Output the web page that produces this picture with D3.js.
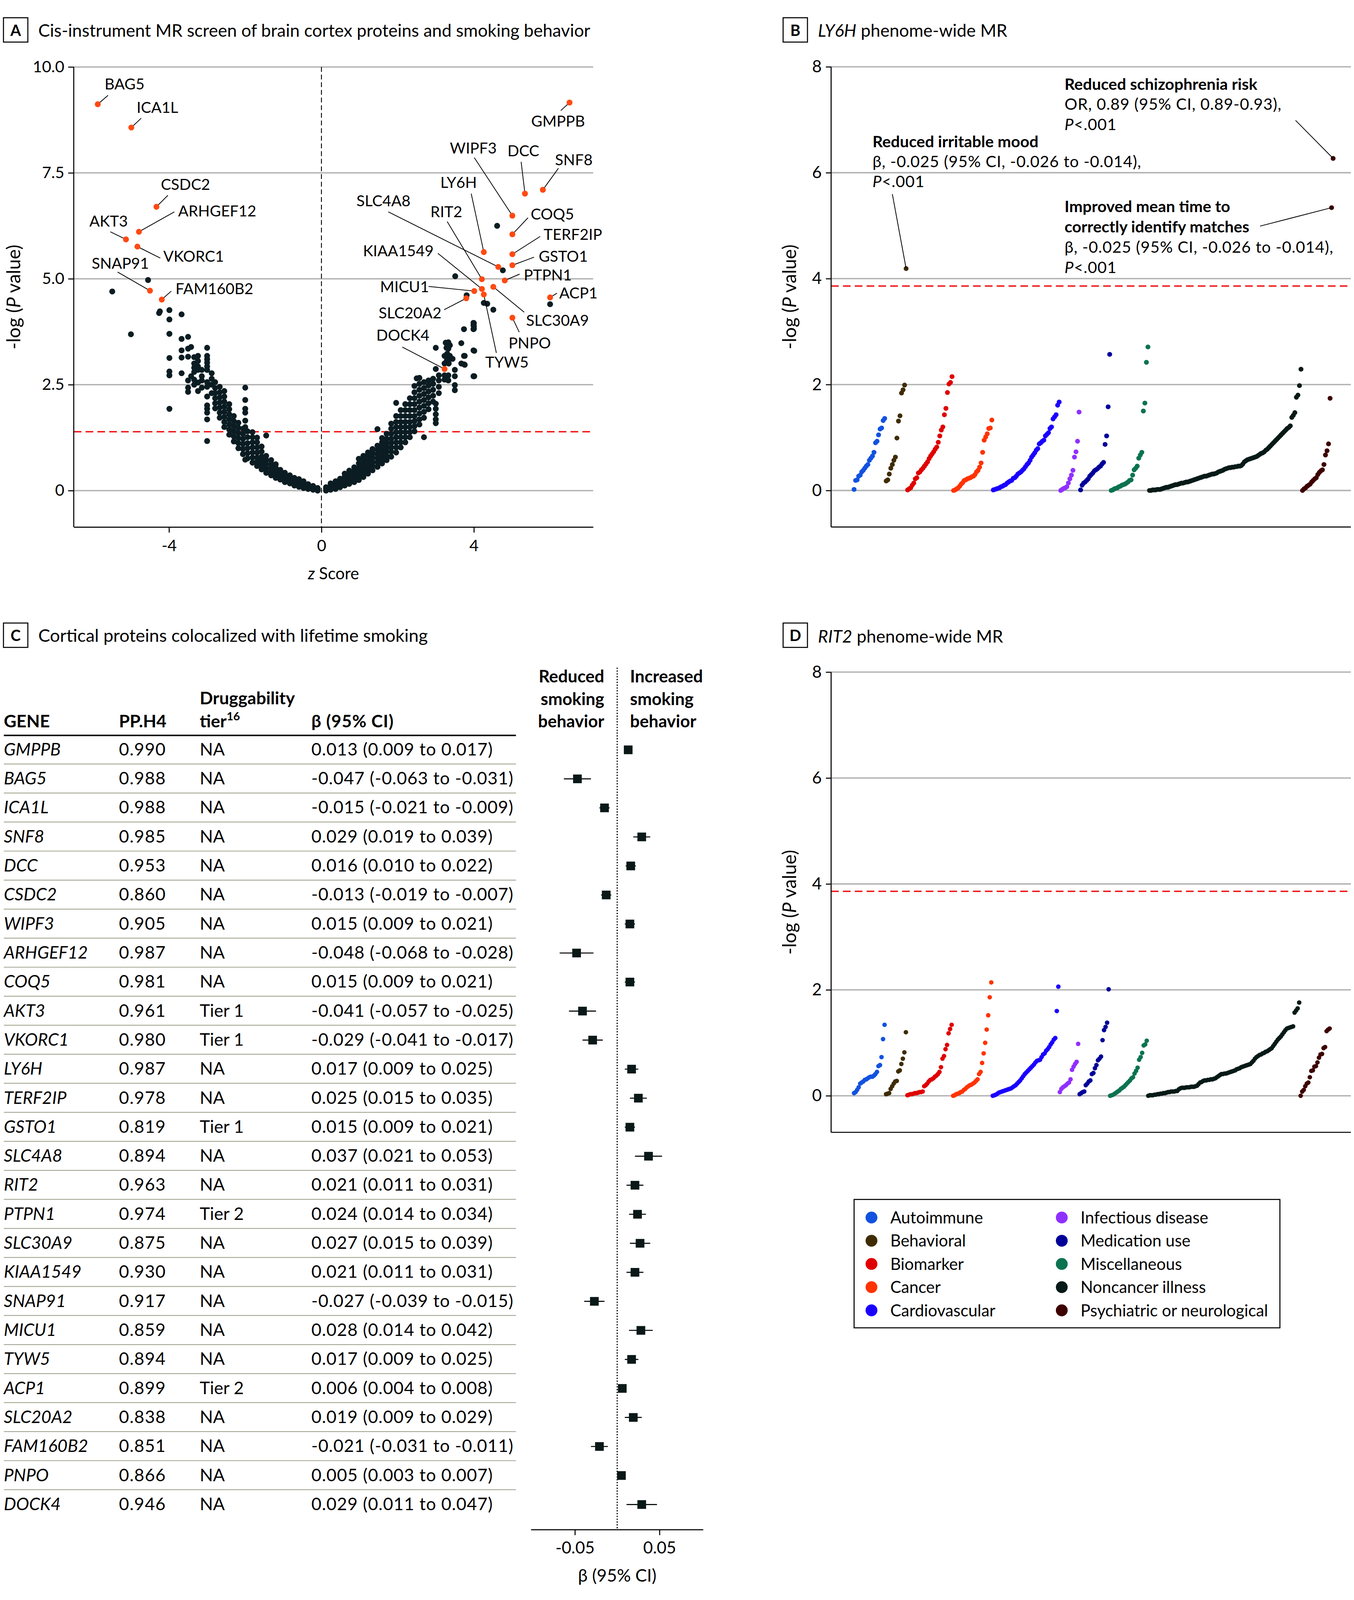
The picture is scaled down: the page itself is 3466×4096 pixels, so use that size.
<!DOCTYPE html>
<html><head><meta charset="utf-8">
<script src="https://cdn.jsdelivr.net/npm/d3@7"></script>
<style>
html,body{margin:0;padding:0;background:#fff;}
svg{display:block;}
</style></head><body>
<svg id="chart" width="3466" height="4096"></svg>
<script>
// ================= DATA =================
// Panel A: cis-MR screen (z score, -log10 P). Columns of points read from the dense V band.
const SCREEN_LEFT_COLUMNS = [
 [-0.10,[0.00,0.03,0.06]],[-0.22,[0.02,0.06,0.11]],[-0.35,[0.04,0.09,0.15]],
 [-0.47,[0.06,0.12,0.18,0.22]],[-0.59,[0.09,0.15,0.21,0.27]],[-0.71,[0.12,0.18,0.24,0.30]],
 [-0.83,[0.17,0.23,0.29,0.36]],[-0.96,[0.20,0.27,0.34,0.42]],[-1.08,[0.26,0.33,0.41,0.49]],
 [-1.20,[0.30,0.38,0.46,0.54,0.62]],[-1.32,[0.36,0.45,0.54,0.63,0.72]],
 [-1.45,[0.42,0.52,0.62,0.72,0.82,1.30]],[-1.57,[0.50,0.60,0.70,0.80,0.92,1.04]],
 [-1.69,[0.58,0.68,0.78,0.90,1.02,1.14,1.25]],[-1.81,[0.66,0.78,0.90,1.02,1.14,1.26,1.38]],
 [-1.94,[0.76,0.88,1.00,1.12,1.26,1.40]],[-2.00,[0.73,1.50,1.65,1.84,1.93,2.14,2.43]],
 [-2.06,[0.86,0.98,1.10,1.22,1.34,1.46]],[-2.18,[1.00,1.12,1.24,1.36,1.48,1.60]],
 [-2.30,[1.16,1.28,1.40,1.52,1.64,1.76]],[-2.42,[1.32,1.44,1.56,1.68,1.80,1.92,2.04]],
 [-2.55,[1.50,1.62,1.74,1.86,1.98,2.10,2.22,2.35]],[-2.67,[1.72,1.84,1.96,2.08,2.20,2.32,2.45]],
 [-2.79,[1.94,2.06,2.18,2.30,2.42,2.56]],[-2.88,[2.30,2.50,2.64,2.77]],
 [-3.00,[1.17,1.68,1.84,1.93,2.01,2.22,2.45,2.56,2.85,2.93,3.02,3.10,3.18,3.37]],
 [-3.14,[2.43,2.60,2.70,2.85]],[-3.24,[2.35,2.55,2.85,2.93,3.06,3.18]],
 [-3.34,[2.50,2.62,2.80,2.90,3.00,3.15]],[-3.42,[2.70,3.39]],
 [-3.50,[2.33,2.43,2.60,3.16,3.35,3.63]],[-3.67,[2.77,3.14,3.31,3.58,4.16]],
 [-3.99,[1.93,2.72,2.81,3.13,3.70,4.04,4.26]],[-4.26,[4.19]]
];
const SCREEN_RIGHT_COLUMNS = [
 [0.12,[0.00,0.04,0.08]],[0.24,[0.02,0.07,0.12,0.17]],[0.37,[0.04,0.10,0.16,0.22]],
 [0.49,[0.08,0.14,0.21,0.28]],[0.61,[0.12,0.19,0.26,0.33,0.40]],[0.73,[0.16,0.24,0.32,0.40,0.47]],
 [0.86,[0.20,0.29,0.38,0.47,0.55]],[0.98,[0.25,0.35,0.45,0.55,0.64,0.75]],
 [1.10,[0.32,0.42,0.52,0.62,0.72,0.82]],[1.22,[0.40,0.50,0.60,0.70,0.80,0.90]],
 [1.34,[0.48,0.58,0.68,0.78,0.88,0.98]],[1.47,[0.56,0.66,0.76,0.86,0.96,1.06,1.45]],
 [1.59,[0.64,0.74,0.84,0.94,1.04,1.14,1.24]],[1.71,[0.72,0.82,0.92,1.02,1.12,1.22,1.34]],
 [1.83,[0.80,0.92,1.02,1.12,1.22,1.34,1.46,1.58]],[1.96,[0.90,1.02,1.14,1.26,1.38,1.50,1.62,1.76,2.07]],
 [2.08,[1.02,1.14,1.26,1.38,1.50,1.62,1.76,1.90]],[2.20,[1.14,1.26,1.38,1.50,1.62,1.76,1.90,2.04]],
 [2.32,[1.26,1.38,1.50,1.62,1.76,1.90,2.04,2.18]],[2.44,[1.40,1.52,1.64,1.76,1.90,2.04,2.18,2.32,2.47]],
 [2.57,[1.56,1.68,1.82,1.96,2.10,2.24,2.38,2.52,2.66]],[2.69,[1.26,1.72,1.86,2.00,2.14,2.28,2.42,2.56]],
 [2.81,[1.92,2.06,2.20,2.34,2.48,2.60]],[2.93,[2.10,2.24,2.38,2.52,2.64]],
 [3.00,[1.59,1.68,1.80,1.93,2.05,2.87,3.37]],[3.08,[2.30,2.45,2.60,2.72]],
 [3.23,[2.62,2.72,3.00,3.18]],[3.33,[2.60,2.72,3.06,3.18,3.35,3.50]],
 [3.50,[2.37,2.49,2.70,2.85]],[3.67,[3.00,3.48]],[3.74,[2.98,3.18,3.81]],
 [3.99,[2.70,3.31,3.81,3.90,3.96]]
];
const SCREEN_SCATTER = [
 [-5.00,3.69],[-4.55,4.97],[-5.49,4.70],[-4.24,4.23],
 [4.61,6.25],[4.76,5.20],[3.51,5.06],[3.81,4.61],[4.26,4.43],[4.35,4.41],[4.51,4.27],[6.00,4.40],
 [4.00,3.95],[4.00,3.88],[4.00,3.82],[3.26,3.49],[3.28,3.37],[3.37,3.43],[3.30,3.23],[3.37,3.18],
 [3.76,3.18],[4.01,3.30],[3.44,3.11],[3.29,3.07],[3.34,3.00],[3.76,2.97],[2.50,2.65],[4.01,2.70]
];
const HIT_GENES = ["BAG5","ICA1L","CSDC2","ARHGEF12","AKT3","VKORC1","SNAP91","FAM160B2","GMPPB","WIPF3","DCC","SNF8","LY6H","COQ5","SLC4A8","RIT2","TERF2IP","KIAA1549","GSTO1","PTPN1","MICU1","ACP1","SLC20A2","TYW5","SLC30A9","PNPO","DOCK4"];
const HIT_Z = [-5.87,-4.99,-4.33,-4.79,-5.13,-4.83,-4.50,-4.19,6.51,5.01,5.34,5.81,4.26,5.01,4.64,4.21,5.01,4.21,5.01,4.81,4.01,6.00,3.80,4.26,4.51,5.01,3.23];
const HIT_P = [9.12,8.57,6.70,6.11,5.93,5.76,4.72,4.51,9.16,6.49,7.01,7.10,5.63,6.05,5.28,4.99,5.58,4.76,5.32,4.96,4.71,4.56,4.54,4.63,4.81,4.08,2.87];
// label anchors (data units: text start z, baseline -log P) and leader-line start
const HIT_LABEL_AT = [[-5.69,9.47],[-4.85,8.92],[-4.215,7.10],[-3.76,6.47],[-6.09,6.23],[-4.15,5.40],[-6.03,5.24],[-3.83,4.64],[5.505,8.59],[3.37,7.96],[4.88,7.89],[6.13,7.68],[3.12,7.15],[5.49,6.40],[0.92,6.71],[2.86,6.45],[5.83,5.92],[1.09,5.53],[5.70,5.40],[5.31,4.96],[1.54,4.68],[6.24,4.54],[1.50,4.07],[4.30,2.90],[5.37,3.89],[4.91,3.36],[1.44,3.54]];
const HIT_LEADER_FROM = [[-5.60,9.33],[-4.73,8.79],[-4.03,6.97],[-3.86,6.58],[-5.54,6.11],[-4.23,5.49],[-5.35,5.16],[-3.94,4.71],[6.28,8.97],[4.01,7.86],[5.24,7.76],[6.22,7.61],[3.93,7.01],[5.42,6.44],[1.755,6.58],[3.30,6.35],[5.74,6.00],[3.055,5.60],[5.58,5.51],[5.20,5.11],[2.81,4.82],[6.18,4.66],[3.22,4.27],[4.59,3.25],[5.32,4.21],[5.19,3.74],[2.12,3.39]];
const A_YTICKS = [0, 2.5, 5, 7.5, 10];
const A_XTICKS = [-4, 0, 4];
const A_THRESHOLD = 1.39;

// Phenome-wide categories
const CATEGORIES = ["Autoimmune","Behavioral","Biomarker","Cancer","Cardiovascular","Infectious disease","Medication use","Miscellaneous","Noncancer illness","Psychiatric or neurological"];
const CAT_COLORS = ["#1252e0","#3f2c05","#e00000","#ff3300","#1a00ff","#9030ff","#000099","#0b7350","#061a17","#3d0000"];

// Panel B: LY6H phenome-wide MR (-log P), sorted within category
const B_AUTO = [0.02,0.19,0.20,0.27,0.29,0.35,0.38,0.42,0.46,0.49,0.57,0.61,0.65,0.72,0.90,0.93,1.05,1.16,1.18,1.32,1.36];
const B_BEHAV = [0.18,0.20,0.31,0.42,0.49,0.57,0.63,0.99,1.31,1.41,1.84,1.90,1.99,4.19];
const B_BIOM = [0.01,0.03,0.05,0.10,0.14,0.22,0.24,0.33,0.35,0.39,0.42,0.46,0.50,0.54,0.60,0.65,0.69,0.73,0.78,0.82,0.91,1.03,1.14,1.20,1.43,1.55,1.85,2.01,2.04,2.15];
const B_CANC = [0.00,0.01,0.03,0.05,0.08,0.12,0.15,0.19,0.20,0.22,0.23,0.24,0.26,0.27,0.30,0.35,0.38,0.44,0.52,0.72,0.95,1.01,1.07,1.17,1.18,1.33];
const B_CARD = [0.01,0.02,0.03,0.04,0.05,0.07,0.08,0.10,0.11,0.14,0.16,0.18,0.19,0.23,0.24,0.27,0.31,0.33,0.35,0.38,0.41,0.45,0.49,0.52,0.57,0.63,0.67,0.71,0.76,0.79,0.88,0.90,0.93,0.95,1.03,1.06,1.09,1.17,1.20,1.35,1.39,1.43,1.61,1.67];
const B_INF = [0.00,0.02,0.04,0.05,0.07,0.14,0.22,0.29,0.38,0.63,0.73,0.93,1.48];
const B_MED = [0.01,0.10,0.14,0.16,0.19,0.22,0.27,0.30,0.33,0.37,0.39,0.41,0.44,0.46,0.50,0.53,0.87,1.03,1.58,2.57];
const B_MISC = [0.00,0.01,0.03,0.04,0.05,0.07,0.08,0.10,0.11,0.12,0.14,0.16,0.19,0.20,0.29,0.39,0.42,0.46,0.61,0.67,0.72,1.50,1.65,2.42,2.71];
const B_NONC = [0.00,0.00,0.01,0.01,0.01,0.02,0.02,0.02,0.03,0.04,0.05,0.06,0.06,0.07,0.08,0.09,0.10,0.11,0.11,0.12,
 0.13,0.14,0.14,0.15,0.16,0.16,0.17,0.18,0.19,0.20,0.21,0.22,0.23,0.24,0.25,0.26,0.27,0.27,0.28,0.29,
 0.30,0.31,0.31,0.32,0.33,0.35,0.36,0.37,0.38,0.40,0.41,0.42,0.43,0.43,0.44,0.44,0.45,0.45,0.46,0.46,
 0.47,0.50,0.54,0.56,0.58,0.59,0.60,0.61,0.62,0.63,0.64,0.66,0.68,0.70,0.71,0.73,0.76,0.78,0.81,0.84,
 0.87,0.90,0.93,0.96,0.99,1.02,1.05,1.08,1.11,1.14,1.17,1.19,1.22,1.38,1.42,1.47,1.76,1.80,1.98,2.29];
const B_PSY = [0.00,0.03,0.05,0.08,0.10,0.12,0.16,0.19,0.22,0.24,0.30,0.34,0.37,0.39,0.49,0.67,0.75,0.88,1.74,5.34,6.27];

// Panel D: RIT2 phenome-wide MR
const D_AUTO = [0.05,0.07,0.11,0.16,0.23,0.25,0.27,0.30,0.31,0.33,0.35,0.36,0.36,0.38,0.41,0.45,0.56,0.58,0.73,1.07,1.34];
const D_BEHAV = [0.03,0.04,0.05,0.13,0.18,0.23,0.27,0.28,0.46,0.48,0.60,0.70,0.82,1.20];
const D_BIOM = [0.01,0.02,0.03,0.03,0.04,0.05,0.05,0.06,0.07,0.07,0.08,0.18,0.20,0.23,0.27,0.30,0.31,0.33,0.36,0.38,0.41,0.45,0.54,0.70,0.75,0.88,0.96,1.18,1.26,1.34];
const D_CANC = [0.00,0.01,0.03,0.04,0.05,0.07,0.08,0.11,0.13,0.16,0.18,0.20,0.21,0.23,0.25,0.28,0.31,0.41,0.45,0.62,0.80,1.00,1.25,1.52,1.86,2.14];
const D_CARD = [0.00,0.01,0.02,0.04,0.06,0.07,0.08,0.09,0.10,0.11,0.12,0.13,0.14,0.16,0.18,0.20,0.23,0.26,0.29,0.33,0.37,0.41,0.44,0.47,0.50,0.53,0.56,0.59,0.63,0.66,0.67,0.68,0.73,0.78,0.80,0.85,0.88,0.92,0.97,1.01,1.06,1.09,1.60,2.06];
const D_INF = [0.07,0.13,0.16,0.18,0.20,0.23,0.25,0.31,0.49,0.55,0.60,0.64,0.98];
const D_MED = [0.03,0.05,0.07,0.08,0.20,0.23,0.27,0.29,0.41,0.43,0.52,0.58,0.67,0.70,0.74,1.05,1.24,1.30,1.38,2.01];
const D_MISC = [0.00,0.01,0.02,0.04,0.06,0.08,0.10,0.13,0.15,0.17,0.20,0.23,0.26,0.29,0.33,0.35,0.42,0.47,0.53,0.68,0.73,0.81,0.95,0.97,1.04];
const D_NONC = [0.00,0.01,0.01,0.01,0.02,0.02,0.03,0.03,0.04,0.04,0.05,0.05,0.06,0.07,0.07,0.08,0.08,0.08,0.09,0.09,
 0.12,0.14,0.15,0.15,0.15,0.16,0.16,0.16,0.17,0.17,0.17,0.18,0.19,0.22,0.25,0.26,0.28,0.29,0.29,0.30,
 0.30,0.31,0.31,0.32,0.33,0.35,0.37,0.39,0.41,0.41,0.42,0.42,0.43,0.44,0.45,0.46,0.47,0.48,0.50,0.51,
 0.52,0.54,0.55,0.56,0.57,0.58,0.59,0.60,0.63,0.66,0.70,0.73,0.75,0.77,0.78,0.80,0.81,0.83,0.84,0.86,
 0.88,0.90,0.94,0.98,1.02,1.06,1.09,1.12,1.16,1.20,1.24,1.27,1.28,1.29,1.30,1.31,1.57,1.61,1.65,1.76];
const D_PSY = [0.00,0.08,0.11,0.18,0.23,0.25,0.35,0.47,0.48,0.55,0.56,0.63,0.72,0.78,0.79,0.90,0.92,1.22,1.25,1.27];
const PHE_YTICKS = [0, 2, 4, 6, 8];
const PHE_THRESHOLD = 3.86;

// Panel C: colocalized proteins
const TABLE_GENES = ["GMPPB","BAG5","ICA1L","SNF8","DCC","CSDC2","WIPF3","ARHGEF12","COQ5","AKT3","VKORC1","LY6H","TERF2IP","GSTO1","SLC4A8","RIT2","PTPN1","SLC30A9","KIAA1549","SNAP91","MICU1","TYW5","ACP1","SLC20A2","FAM160B2","PNPO","DOCK4"];
const PP_H4 = [0.990,0.988,0.988,0.985,0.953,0.860,0.905,0.987,0.981,0.961,0.980,0.987,0.978,0.819,0.894,0.963,0.974,0.875,0.930,0.917,0.859,0.894,0.899,0.838,0.851,0.866,0.946];
const DRUG_TIER = ["NA","NA","NA","NA","NA","NA","NA","NA","NA","Tier 1","Tier 1","NA","NA","Tier 1","NA","NA","Tier 2","NA","NA","NA","NA","NA","Tier 2","NA","NA","NA","NA"];
const BETA = [0.013,-0.047,-0.015,0.029,0.016,-0.013,0.015,-0.048,0.015,-0.041,-0.029,0.017,0.025,0.015,0.037,0.021,0.024,0.027,0.021,-0.027,0.028,0.017,0.006,0.019,-0.021,0.005,0.029];
const BETA_LO = [0.009,-0.063,-0.021,0.019,0.010,-0.019,0.009,-0.068,0.009,-0.057,-0.041,0.009,0.015,0.009,0.021,0.011,0.014,0.015,0.011,-0.039,0.014,0.009,0.004,0.009,-0.031,0.003,0.011];
const BETA_HI = [0.017,-0.031,-0.009,0.039,0.022,-0.007,0.021,-0.028,0.021,-0.025,-0.017,0.025,0.035,0.021,0.053,0.031,0.034,0.039,0.031,-0.015,0.042,0.025,0.008,0.029,-0.011,0.007,0.047];
const FOREST_TICKS = [-0.05, 0.05];

// ================= DRAWING =================
const FONT = 'Lato, "Noto Sans", "Open Sans", sans-serif';
const S = 3466 / 3892;
const svg = d3.select('#chart').attr('font-family', FONT);
svg.append('rect').attr('width', 3466).attr('height', 4096).attr('fill', '#fff');
const root = svg.append('g').attr('transform', `scale(${S})`);
const GRID = '#b3b3b3', RED = '#ee1111';
const TITLE_FS = 50;
const fmtSigned = (v, n) => (v < 0 ? '-' : '') + Math.abs(v).toFixed(n);

function panelTag(x, y, letter) {
  root.append('rect').attr('x', x).attr('y', y).attr('width', 70).attr('height', 70)
    .attr('fill', 'none').attr('stroke', '#000').attr('stroke-width', 3);
  root.append('text').attr('x', x + 35).attr('y', y + 36).attr('dy', '0.36em')
    .attr('text-anchor', 'middle').attr('font-weight', 700).attr('font-size', 44).text(letter);
}
function rich(textSel, parts) {
  parts.forEach(p => {
    const t = textSel.append('tspan').text(p.t);
    if (p.i) t.attr('font-style', 'italic');
    if (p.b) t.attr('font-weight', 700);
  });
  return textSel;
}
function styleAxis(g, fs) {
  g.attr('font-family', FONT).attr('font-size', fs);
  g.select('.domain').attr('stroke', '#000').attr('stroke-width', 3);
  g.selectAll('.tick line').attr('stroke', '#000').attr('stroke-width', 3);
  g.selectAll('.tick text').attr('fill', '#000');
}
function yLabel(x, y) {
  rich(root.append('text').attr('transform', `translate(${x},${y}) rotate(-90)`)
    .attr('text-anchor', 'middle').attr('font-size', 54),
    [{t: '-log ('}, {t: 'P', i: true}, {t: ' value)'}]);
}

// ---------- Panel A ----------
panelTag(10, 51, 'A');
root.append('text').attr('x', 110).attr('y', 105).attr('font-size', TITLE_FS)
  .text('Cis-instrument MR screen of brain cortex proteins and smoking behavior');

const xA = d3.scaleLinear().domain([-6.5, 7.13]).range([212, 1705]);
const yA = d3.scaleLinear().domain([-0.86, 10]).range([1515, 192.5]);
const gA = root.append('g');
gA.selectAll('line.grid').data(A_YTICKS).join('line')
  .attr('x1', xA.range()[0]).attr('x2', xA.range()[1])
  .attr('y1', d => yA(d)).attr('y2', d => yA(d)).attr('stroke', GRID).attr('stroke-width', 4);
gA.append('line').attr('x1', xA(0)).attr('x2', xA(0)).attr('y1', yA(10)).attr('y2', yA.range()[0])
  .attr('stroke', '#000').attr('stroke-width', 2.5).attr('stroke-dasharray', '14 8');
gA.append('line').attr('x1', xA.range()[0]).attr('x2', xA.range()[1])
  .attr('y1', yA(A_THRESHOLD)).attr('y2', yA(A_THRESHOLD))
  .attr('stroke', RED).attr('stroke-width', 4).attr('stroke-dasharray', '22 12');

const screenPts = [];
SCREEN_LEFT_COLUMNS.concat(SCREEN_RIGHT_COLUMNS).forEach(([z, ps]) => ps.forEach(p => screenPts.push([z, p])));
SCREEN_SCATTER.forEach(d => screenPts.push(d));
gA.selectAll('circle.bg').data(screenPts).join('circle')
  .attr('cx', d => xA(d[0])).attr('cy', d => yA(d[1])).attr('r', 8.5).attr('fill', '#0b1d22');

const hits = HIT_GENES.map((g, i) => ({g, z: HIT_Z[i], p: HIT_P[i], lab: HIT_LABEL_AT[i], from: HIT_LEADER_FROM[i]}));
gA.selectAll('line.leader').data(hits).join('line')
  .attr('x1', d => xA(d.from[0])).attr('y1', d => yA(d.from[1]))
  .attr('x2', d => xA(d.z)).attr('y2', d => yA(d.p)).attr('stroke', '#000').attr('stroke-width', 2.2);
gA.selectAll('circle.hit').data(hits).join('circle')
  .attr('cx', d => xA(d.z)).attr('cy', d => yA(d.p)).attr('r', 8.5).attr('fill', '#ff4a12');
gA.selectAll('text.hit').data(hits).join('text')
  .attr('x', d => xA(d.lab[0])).attr('y', d => yA(d.lab[1])).attr('font-size', 44).text(d => d.g);

const axAy = gA.append('g').attr('transform', `translate(${xA.range()[0]},0)`)
  .call(d3.axisLeft(yA).tickValues(A_YTICKS).tickFormat(d => d === 0 ? '0' : d.toFixed(1))
    .tickSize(16).tickSizeOuter(0).tickPadding(11));
styleAxis(axAy, 46);
axAy.select('.domain').attr('d', `M0,${yA(10)}V${yA.range()[0]}`);
const axAx = gA.append('g').attr('transform', `translate(0,${yA.range()[0]})`)
  .call(d3.axisBottom(xA).tickValues(A_XTICKS).tickFormat(d => fmtSigned(d, 0))
    .tickSize(16).tickSizeOuter(0).tickPadding(21));
styleAxis(axAx, 46);
rich(root.append('text').attr('x', (xA.range()[0] + xA.range()[1]) / 2).attr('y', 1665)
  .attr('text-anchor', 'middle').attr('font-size', 47), [{t: 'z', i: true}, {t: ' Score'}]);
yLabel(58, 854);

// ---------- Phenome-wide panels ----------
function phewas(series, yTop, yBottom, xEnd, r) {
  const flat = [];
  series.forEach((arr, ci) => arr.forEach(v => flat.push({ci, v})));
  const x = d3.scaleLinear().domain([0, flat.length - 1]).range([2455, xEnd]);
  const y = d3.scaleLinear().domain([-0.69, 8]).range([yBottom, yTop]);
  const g = root.append('g');
  g.selectAll('line.grid').data(PHE_YTICKS).join('line')
    .attr('x1', 2389).attr('x2', 3883).attr('y1', d => y(d)).attr('y2', d => y(d))
    .attr('stroke', GRID).attr('stroke-width', 4);
  g.append('line').attr('x1', 2389).attr('x2', 3883).attr('y1', y(PHE_THRESHOLD)).attr('y2', y(PHE_THRESHOLD))
    .attr('stroke', RED).attr('stroke-width', 4).attr('stroke-dasharray', '22 12');
  const ax = g.append('g').attr('transform', 'translate(2389,0)')
    .call(d3.axisLeft(y).tickValues(PHE_YTICKS).tickFormat(d3.format('d')).tickSize(15).tickSizeOuter(0).tickPadding(12));
  styleAxis(ax, 48);
  ax.select('.domain').attr('d', `M0,${y(8)}V${yBottom}`);
  g.append('line').attr('x1', 2389).attr('x2', 3883).attr('y1', yBottom).attr('y2', yBottom)
    .attr('stroke', '#000').attr('stroke-width', 3);
  g.selectAll('circle.pt').data(flat).join('circle')
    .attr('cx', (d, i) => x(i)).attr('cy', d => y(d.v)).attr('r', r).attr('fill', d => CAT_COLORS[d.ci]);
  return {x, y, flat};
}

// Panel B
panelTag(2251, 51, 'B');
rich(root.append('text').attr('x', 2351).attr('y', 105).attr('font-size', TITLE_FS),
  [{t: 'LY6H', i: true}, {t: ' phenome-wide MR'}]);
const seriesB = [B_AUTO, B_BEHAV, B_BIOM, B_CANC, B_CARD, B_INF, B_MED, B_MISC, B_NONC, B_PSY];
const pB = phewas(seriesB, 192, 1515, 3832, 7);
yLabel(2288, 853.5);

function block(x, y0, lh, lines) {
  lines.forEach((parts, k) => {
    const t = root.append('text').attr('x', x).attr('y', y0 + k * lh).attr('font-size', 46);
    if (!parts.some(p => p.b)) t.attr('letter-spacing', 1.1);
    rich(t, parts);
  });
}
block(3060, 258, 58, [
  [{t: 'Reduced schizophrenia risk', b: true}],
  [{t: 'OR, 0.89 (95% CI, 0.89-0.93),'}],
  [{t: 'P', i: true}, {t: '<.001'}]]);
block(2508, 423, 57.5, [
  [{t: 'Reduced irritable mood', b: true}],
  [{t: 'β, -0.025 (95% CI, -0.026 to -0.014),'}],
  [{t: 'P', i: true}, {t: '<.001'}]]);
block(3060, 610, 58.3, [
  [{t: 'Improved mean time to', b: true}],
  [{t: 'correctly identify matches', b: true}],
  [{t: 'β, -0.025 (95% CI, -0.026 to -0.014),'}],
  [{t: 'P', i: true}, {t: '<.001'}]]);
// annotation leaders to data points
const idxBehavTop = B_AUTO.length + B_BEHAV.length - 1;
const nB = pB.flat.length;
const annos = [[3724, 346, nB - 1], [2565, 558, idxBehavTop], [3622, 650, nB - 2]];
root.selectAll('line.anno').data(annos).join('line')
  .attr('x1', d => d[0]).attr('y1', d => d[1])
  .attr('x2', d => pB.x(d[2])).attr('y2', d => pB.y(pB.flat[d[2]].v))
  .attr('stroke', '#000').attr('stroke-width', 2.2);

// Panel D
panelTag(2251, 1791, 'D');
rich(root.append('text').attr('x', 2351).attr('y', 1847).attr('font-size', TITLE_FS),
  [{t: 'RIT2', i: true}, {t: ' phenome-wide MR'}]);
const seriesD = [D_AUTO, D_BEHAV, D_BIOM, D_CANC, D_CARD, D_INF, D_MED, D_MISC, D_NONC, D_PSY];
phewas(seriesD, 1932, 3255, 3822, 6.5);
yLabel(2288, 2593.5);

// Legend
const lg = root.append('g');
lg.append('rect').attr('x', 2455).attr('y', 3448).attr('width', 1224).attr('height', 369)
  .attr('fill', 'none').attr('stroke', '#000').attr('stroke-width', 3);
const legendItems = CATEGORIES.map((c, i) => ({c, col: CAT_COLORS[i], cx: i < 5 ? 2505 : 3052, cy: 3500 + (i % 5) * 66.7}));
lg.selectAll('circle').data(legendItems).join('circle')
  .attr('cx', d => d.cx).attr('cy', d => d.cy).attr('r', 17).attr('fill', d => d.col);
lg.selectAll('text').data(legendItems).join('text')
  .attr('x', d => d.cx + 54).attr('y', d => d.cy).attr('dy', '0.36em').attr('font-size', 47).text(d => d.c);

// ---------- Panel C ----------
panelTag(10, 1791, 'C');
root.append('text').attr('x', 110).attr('y', 1845).attr('font-size', 51)
  .text('Cortical proteins colocalized with lifetime smoking');

const COLX = {gene: 11, pp: 342, tier: 574, beta: 895};
const hdr = root.append('g').attr('font-weight', 700).attr('font-size', 50);
hdr.append('text').attr('x', COLX.gene).attr('y', 2091).text('GENE');
hdr.append('text').attr('x', COLX.pp).attr('y', 2091).text('PP.H4');
hdr.append('text').attr('x', COLX.tier).attr('y', 2025).text('Druggability');
const tierT = hdr.append('text').attr('x', COLX.tier).attr('y', 2091);
tierT.append('tspan').text('tier');
tierT.append('tspan').attr('dy', -20).attr('font-size', 33).text('16');
hdr.append('text').attr('x', COLX.beta).attr('y', 2091).attr('letter-spacing', 1).text('β (95% CI)');
root.append('line').attr('x1', 11).attr('x2', 1483).attr('y1', 2114).attr('y2', 2114)
  .attr('stroke', '#000').attr('stroke-width', 4);

const rowY = d3.scalePoint().domain(TABLE_GENES).range([2155.5, 4325]);
const step = rowY.step();
const rows = TABLE_GENES.map((g, i) => ({g, pp: PP_H4[i], tier: DRUG_TIER[i], b: BETA[i], lo: BETA_LO[i], hi: BETA_HI[i]}));
root.selectAll('line.sep').data(rows.slice(0, -1)).join('line')
  .attr('x1', 11).attr('x2', 1483)
  .attr('y1', d => rowY(d.g) + step / 2 - 1).attr('y2', d => rowY(d.g) + step / 2 - 1)
  .attr('stroke', '#a4a692').attr('stroke-width', 2.5);
const rowG = root.selectAll('g.row').data(rows).join('g')
  .attr('transform', d => `translate(0,${rowY(d.g) + 16})`).attr('font-size', 50);
rowG.append('text').attr('x', COLX.gene).attr('font-style', 'italic').text(d => d.g);
rowG.append('text').attr('x', COLX.pp).attr('letter-spacing', 1.5).text(d => d.pp.toFixed(3));
rowG.append('text').attr('x', COLX.tier).text(d => d.tier);
rowG.append('text').attr('x', COLX.beta).attr('letter-spacing', 1.25)
  .text(d => `${fmtSigned(d.b, 3)} (${fmtSigned(d.lo, 3)} to ${fmtSigned(d.hi, 3)})`);

// Forest plot
const xF = d3.scaleLinear().domain([-0.102, 0.1015]).range([1526, 2021]);
const fg = root.append('g');
fg.append('line').attr('x1', xF(0)).attr('x2', xF(0)).attr('y1', 1921).attr('y2', 4397)
  .attr('stroke', '#000').attr('stroke-width', 4).attr('stroke-linecap', 'round').attr('stroke-dasharray', '0.1 8');
const fh = fg.append('g').attr('font-weight', 700).attr('font-size', 49);
['Reduced', 'smoking', 'behavior'].forEach((t, k) =>
  fh.append('text').attr('x', 1737).attr('y', 1962 + k * 64.5).attr('text-anchor', 'end').text(t));
['Increased', 'smoking', 'behavior'].forEach((t, k) =>
  fh.append('text').attr('x', 1811).attr('y', 1962 + k * 64.5).text(t));
fg.selectAll('line.ci').data(rows).join('line')
  .attr('x1', d => xF(d.lo)).attr('x2', d => xF(d.hi))
  .attr('y1', d => rowY(d.g)).attr('y2', d => rowY(d.g)).attr('stroke', '#000').attr('stroke-width', 3);
fg.selectAll('rect.est').data(rows).join('rect')
  .attr('x', d => xF(d.b) - 12.5).attr('y', d => rowY(d.g) - 12.5).attr('width', 25).attr('height', 25)
  .attr('fill', '#0a1818');
const axF = fg.append('g').attr('transform', 'translate(0,4397)')
  .call(d3.axisBottom(xF).tickValues(FOREST_TICKS).tickFormat(d => fmtSigned(d, 2))
    .tickSize(16).tickSizeOuter(0).tickPadding(19));
styleAxis(axF, 48);
root.append('text').attr('x', xF(0)).attr('y', 4547).attr('text-anchor', 'middle').attr('font-size', 50).text('β (95% CI)');
</script></body></html>
